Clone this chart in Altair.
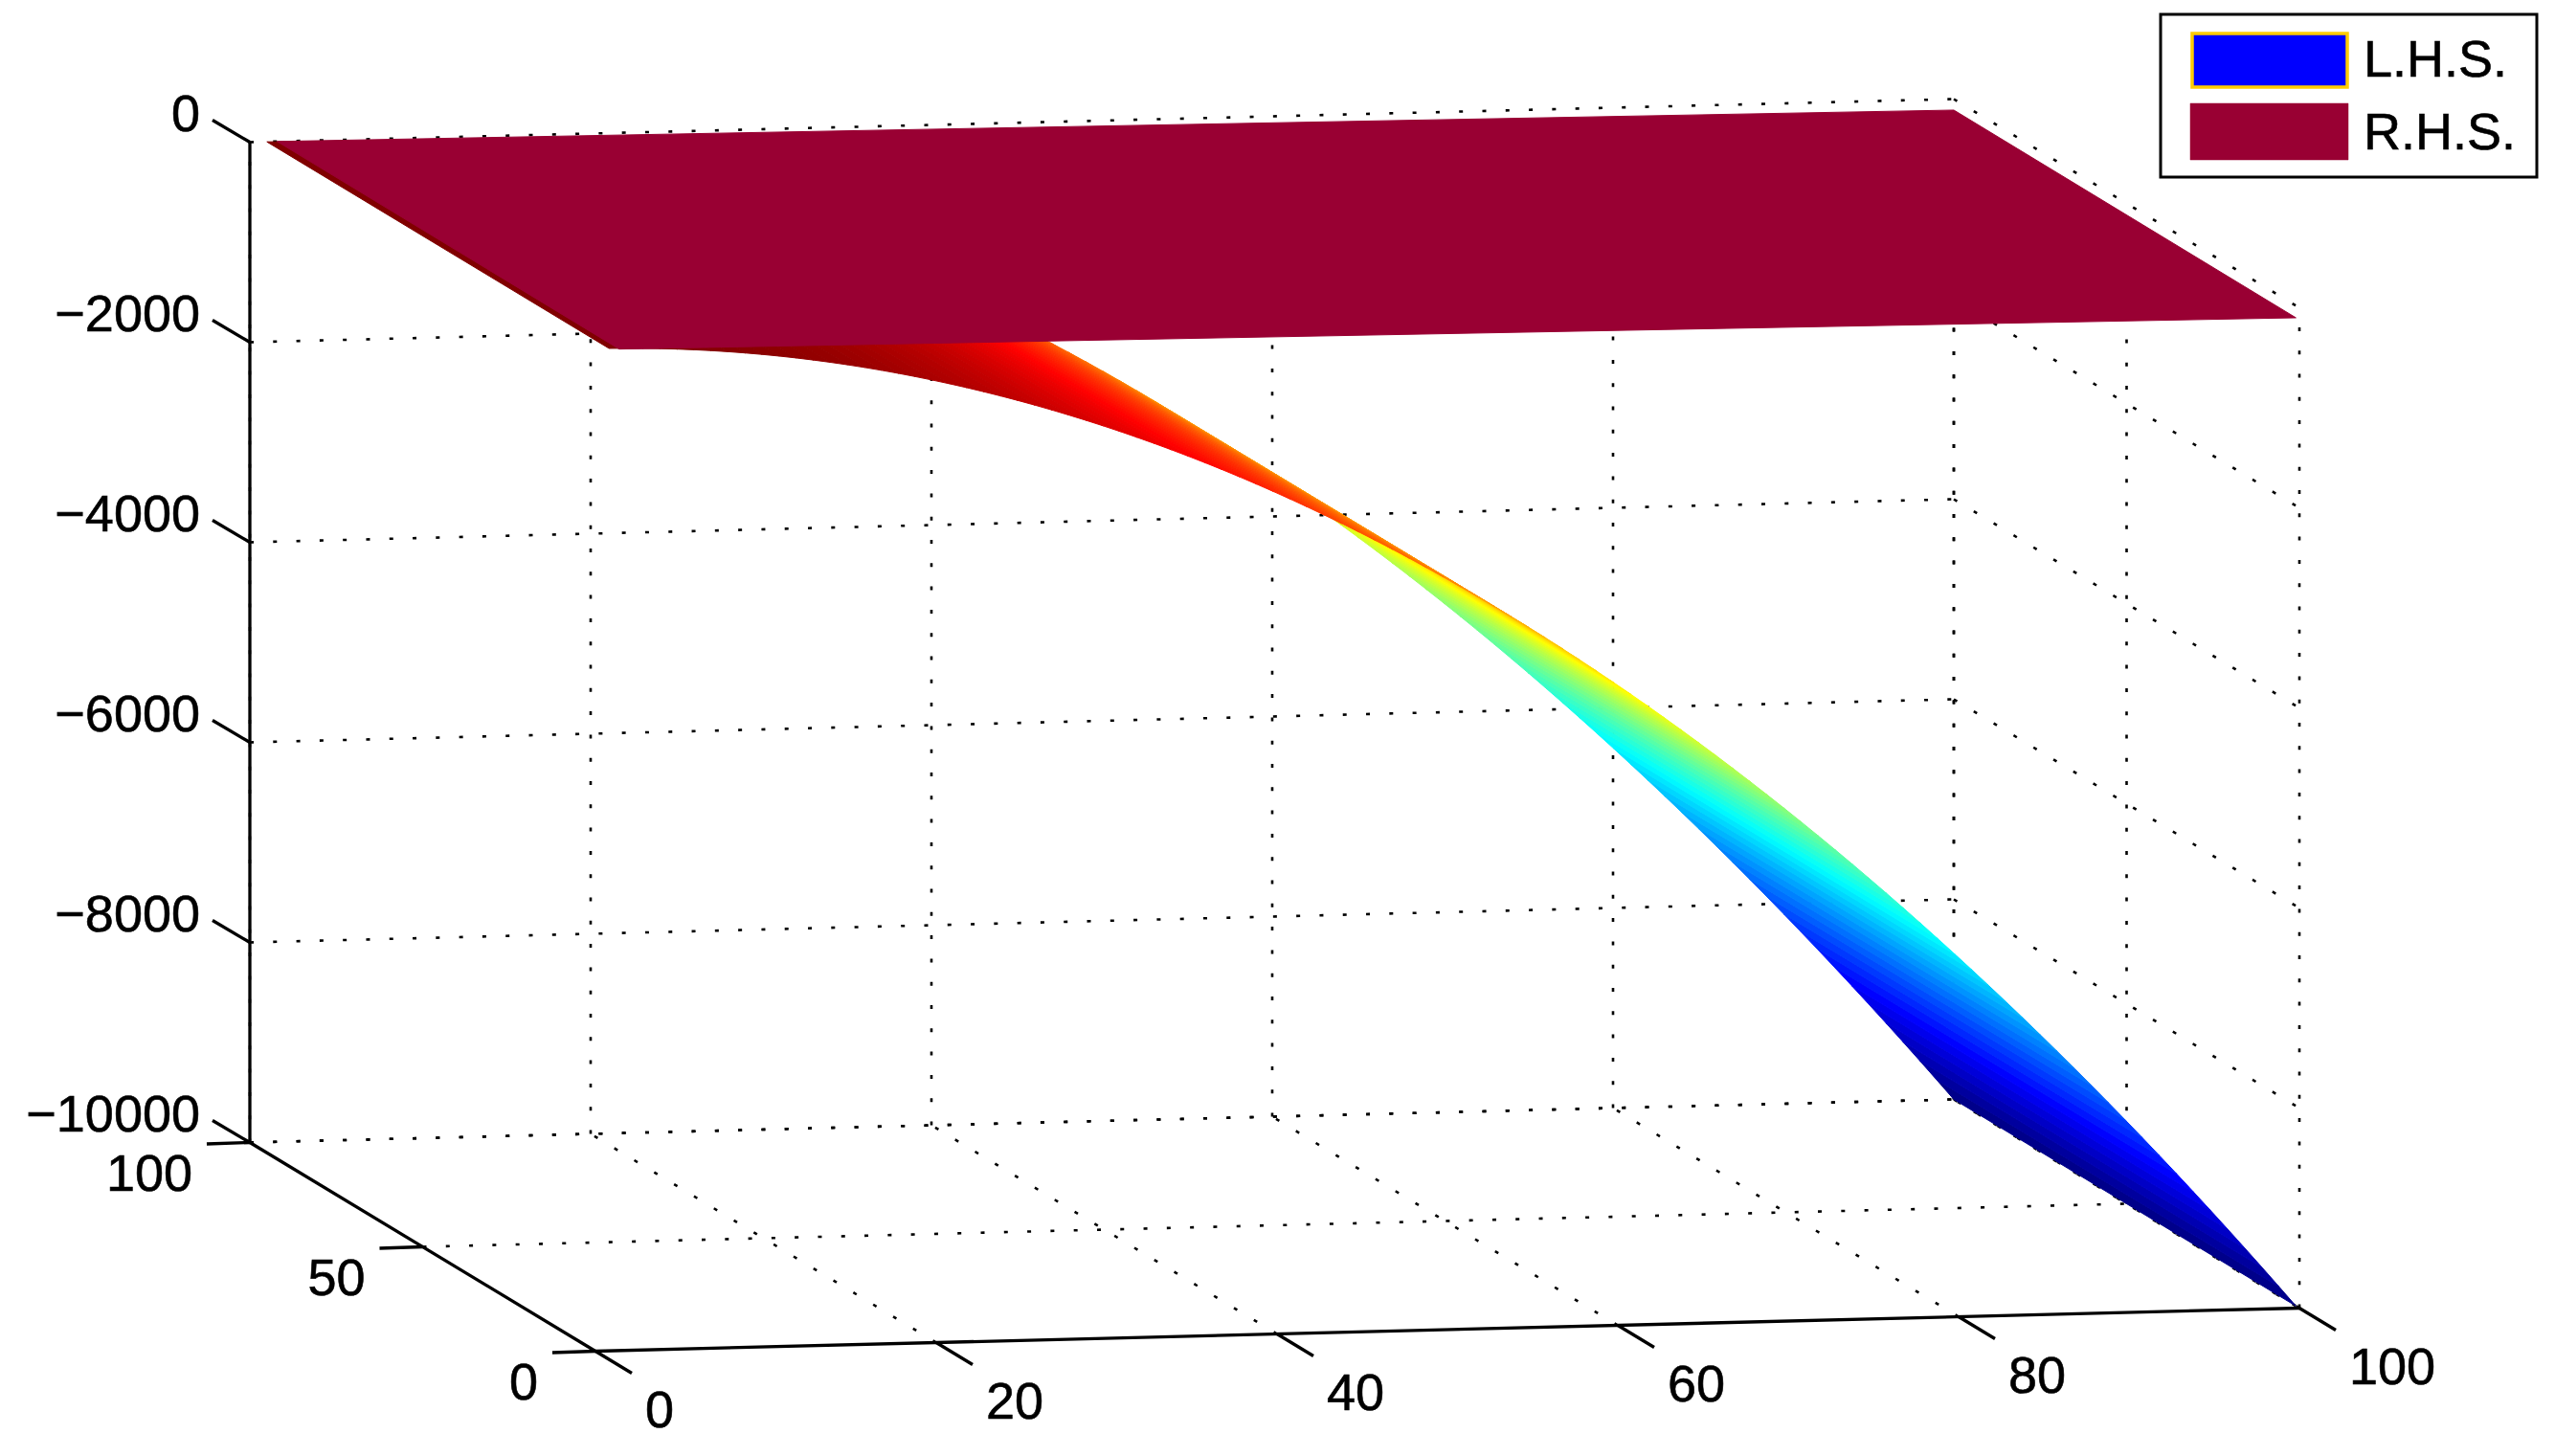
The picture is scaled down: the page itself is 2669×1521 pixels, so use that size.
import altair as alt

# Values
x_ticks = [0, 20, 40, 60, 80, 100]
y_ticks = [0, 50, 100]
z_ticks = [0, -2000, -4000, -6000, -8000, -10000]
lhs_x = list(range(1, 101))
lhs_z = [-1, -4, -9, -16, -25, -36, -49, -64, -81, -100,
         -121, -144, -169, -196, -225, -256, -289, -324, -361, -400,
         -441, -484, -529, -576, -625, -676, -729, -784, -841, -900,
         -961, -1024, -1089, -1156, -1225, -1296, -1369, -1444, -1521, -1600,
         -1681, -1764, -1849, -1936, -2025, -2116, -2209, -2304, -2401, -2500,
         -2601, -2704, -2809, -2916, -3025, -3136, -3249, -3364, -3481, -3600,
         -3721, -3844, -3969, -4096, -4225, -4356, -4489, -4624, -4761, -4900,
         -5041, -5184, -5329, -5476, -5625, -5776, -5929, -6084, -6241, -6400,
         -6561, -6724, -6889, -7056, -7225, -7396, -7569, -7744, -7921, -8100,
         -8281, -8464, -8649, -8836, -9025, -9216, -9409, -9604, -9801, -10000]
rhs_x = [1.6, 100, 100, 1.6]
rhs_y = [100, 100, 1, 1]
rhs_z = [0, -110, -121, -10]
y_edges = [1, 100]
jet_stops = [-10000, -8750, -6250, -3750, -1250, 0]
jet_colors = ["#000080", "#0000ff", "#00ffff", "#ffff00", "#ff0000", "#800000"]
rhs_color = "#990033"
legend_labels = ["L.H.S.", "R.H.S."]
FONT = "Liberation Sans"
FS = 54


def P(x, y, z):
    """Orthographic view of the 3-D box, in page pixels."""
    return [622 + 17.8 * x - 3.61 * y, 1411.5 - 0.45 * x - 2.18 * y - 1045 * (z + 10000) / 10000]


def poly(points, **props):
    return {"type": "Feature", "properties": props,
            "geometry": {"type": "Polygon", "coordinates": [points + [points[0]]]}}


def seg(a, b):
    return {"type": "Feature", "properties": {},
            "geometry": {"type": "LineString", "coordinates": [a, b]}}


PROJ = dict(type="identity", scale=1, translate=[-8, -8])

# dotted grid on walls and floor
grid = []
for x in x_ticks:
    grid.append(seg(P(x, 100, -10000), P(x, 100, 0)))
    if x > 0:
        grid.append(seg(P(x, 0, -10000), P(x, 100, -10000)))
for y in y_ticks:
    grid.append(seg(P(100, y, -10000), P(100, y, 0)))
    if y > 0:
        grid.append(seg(P(0, y, -10000), P(100, y, -10000)))
for z in z_ticks:
    grid.append(seg(P(0, 100, z), P(100, 100, z)))
    grid.append(seg(P(100, 100, z), P(100, 0, z)))

# surface quads, painted from x=100 back to x=1
quads = []
for i in range(len(lhs_x) - 2, -1, -1):
    x0, x1, z0, z1 = lhs_x[i], lhs_x[i + 1], lhs_z[i], lhs_z[i + 1]
    quads.append(poly([P(x0, y_edges[0], z0), P(x1, y_edges[0], z1),
                       P(x1, y_edges[1], z1), P(x0, y_edges[1], z0)], z=(z0 + z1) / 2))

plane = [poly([P(a, b, c) for a, b, c in zip(rhs_x, rhs_y, rhs_z)])]

# solid axes and ticks
axes = [seg(P(0, 100, 0), P(0, 100, -10000)),
        seg(P(0, 100, -10000), P(0, 0, -10000)),
        seg(P(0, 0, -10000), P(100, 0, -10000))]
labels = []
for z in z_ticks:
    p = P(0, 100, z)
    e = [p[0] - 39, p[1] - 23]
    axes.append(seg(p, e))
    labels.append(dict(lon=e[0] - 13, lat=e[1] - 5, t=str(z).replace("-", "\u2212"), a="right"))
for y in y_ticks:
    p = P(0, y, -10000)
    e = [p[0] - 45, p[1] + 1.5]
    axes.append(seg(p, e))
    labels.append(dict(lon=e[0] - 15, lat=e[1] + 33, t=str(y), a="right"))
for x in x_ticks:
    p = P(x, 0, -10000)
    e = [p[0] + 38, p[1] + 23]
    axes.append(seg(p, e))
    labels.append(dict(lon=e[0] + 14, lat=e[1] + 40, t=str(x), a="left"))

jet = alt.Scale(domain=jet_stops, range=jet_colors, interpolate="rgb", clamp=True)

grid_l = alt.Chart(alt.Data(values=grid)).mark_geoshape(
    filled=False, stroke="black", strokeWidth=2.6, strokeDash=[4, 20.3]).project(**PROJ)
surf_l = alt.Chart(alt.Data(values=quads)).mark_geoshape(strokeWidth=1, strokeJoin="round").encode(
    fill=alt.Fill("properties.z:Q", scale=jet, legend=None),
    stroke=alt.Stroke("properties.z:Q", scale=jet, legend=None)).project(**PROJ)
plane_l = alt.Chart(alt.Data(values=plane)).mark_geoshape(
    fill=rhs_color, stroke=rhs_color, strokeWidth=1, strokeJoin="round").project(**PROJ)
axes_l = alt.Chart(alt.Data(values=axes)).mark_geoshape(
    filled=False, stroke="black", strokeWidth=3.3).project(**PROJ)


def text_layer(rows, align):
    return alt.Chart(alt.Data(values=rows)).mark_text(
        font=FONT, fontSize=FS, align=align, baseline="middle", color="black",
        stroke="black", strokeWidth=0.6).encode(
        longitude="lon:Q", latitude="lat:Q", text="t:N").project(**PROJ)


txt_r = text_layer([r for r in labels if r["a"] == "right"], "right")
txt_l = text_layer([r for r in labels if r["a"] == "left"], "left")

# legend box
box = [poly([[2257, 15], [2650, 15], [2650, 185], [2257, 185]])]
box_l = alt.Chart(alt.Data(values=box)).mark_geoshape(
    fill="white", stroke="black", strokeWidth=3).project(**PROJ)
sw1 = alt.Chart(alt.Data(values=[poly([[2290, 35], [2452, 35], [2452, 91], [2290, 91]])])).mark_geoshape(
    fill="#0000ff", stroke="#ffcc00", strokeWidth=3.5).project(**PROJ)
sw2 = alt.Chart(alt.Data(values=[poly([[2288, 108], [2453, 108], [2453, 167], [2288, 167]])])).mark_geoshape(
    fill=rhs_color, stroke=rhs_color, strokeWidth=0.5).project(**PROJ)
leg_t = text_layer([dict(lon=2469, lat=64, t=legend_labels[0]),
                    dict(lon=2469, lat=140, t=legend_labels[1])], "left")

chart = alt.layer(grid_l, surf_l, plane_l, axes_l, txt_r, txt_l, box_l, sw1, sw2, leg_t).properties(
    width=2653, height=1505, padding=0,
    autosize=alt.AutoSizeParams(type="none"), background="white"
).configure_view(strokeWidth=0).resolve_scale(fill="independent", stroke="independent")

chart.save("out.html", embed_options={"renderer": "svg", "actions": False})
